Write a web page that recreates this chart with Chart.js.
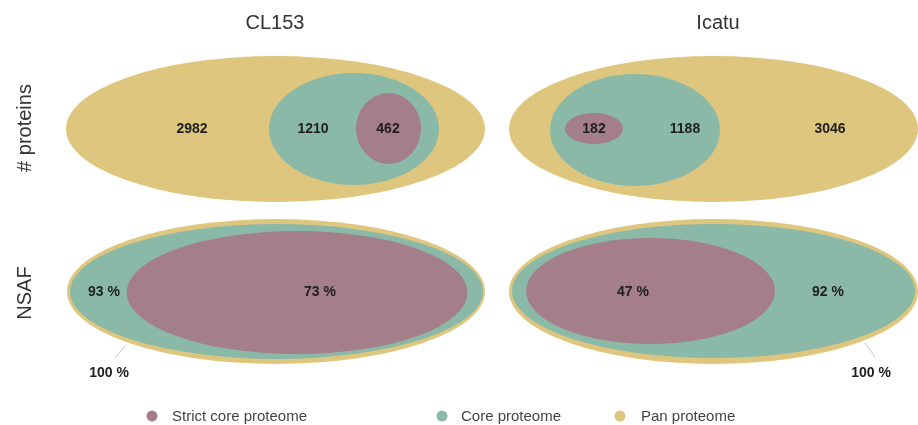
<!DOCTYPE html>
<html>
<head>
<meta charset="utf-8">
<script src="https://cdn.jsdelivr.net/npm/chart.js@4.4.1/dist/chart.umd.min.js"></script>
<style>
  html, body { margin: 0; padding: 0; background: #ffffff; }
  #wrap { position: relative; width: 918px; height: 425px; }
</style>
</head>
<body>
<div id="wrap"><canvas id="c"></canvas></div>
<script>
// ---------- DATA ----------
const cultivars = ['CL153', 'Icatu'];
const rowTitles = ['# proteins', 'NSAF'];
const seriesNames = ['Strict core proteome', 'Core proteome', 'Pan proteome'];
// number of proteins (exclusive region counts) per cultivar
const strictCoreCounts = [462, 182];
const coreCounts = [1210, 1188];
const panCounts = [2982, 3046];
// NSAF share (%) per cultivar
const strictCoreNsaf = [73, 47];
const coreNsaf = [93, 92];
const panNsaf = [100, 100];

// ---------- STYLE ----------
const seriesColors = ['#a47e88', '#8bb9a8', '#dfc67e'];
const FONT = '"Liberation Sans", Arial, sans-serif';

// ---------- LAYOUT (canvas units; panel order: CL153 #, Icatu #, CL153 NSAF, Icatu NSAF) ----------
const ellipseLayout = [
  // strict core
  [{cx: 388.5, cy: 128.5, rx: 32.5, ry: 35.5}, {cx: 594, cy: 128.5, rx: 29, ry: 15.5},
   {cx: 297, cy: 292.5, rx: 170.5, ry: 61.5}, {cx: 650.5, cy: 291, rx: 124.5, ry: 53}],
  // core
  [{cx: 354, cy: 129, rx: 85, ry: 56}, {cx: 635, cy: 130, rx: 85, ry: 56},
   {cx: 276.5, cy: 291.5, rx: 206.5, ry: 67.5}, {cx: 713.5, cy: 291, rx: 201.5, ry: 67}],
  // pan
  [{cx: 275.5, cy: 129, rx: 209.5, ry: 73}, {cx: 713.5, cy: 129, rx: 204.5, ry: 73},
   {cx: 276, cy: 291.5, rx: 209, ry: 72.5}, {cx: 713.5, cy: 291.5, rx: 204.5, ry: 72.5}]
];
const labelLayout = [
  [{x: 388, y: 129}, {x: 594, y: 129}, {x: 320, y: 292}, {x: 633, y: 292}],
  [{x: 313, y: 129}, {x: 685, y: 129}, {x: 104, y: 292}, {x: 828, y: 292}],
  [{x: 192, y: 129}, {x: 830, y: 129}, {x: 109, y: 373}, {x: 871, y: 373}]
];
const leaderLayout = [null, null, [[126, 345], [115, 358]], [[865, 343], [875, 357]]];
const titleLayout = [{x: 275, y: 23}, {x: 718, y: 23}];
const rowTitleLayout = [{x: 25, y: 128}, {x: 25, y: 293}];
const legendLayout = [{mx: 152, tx: 172}, {mx: 442, tx: 461}, {mx: 620, tx: 641}];
const legendY = 417;

// ---------- BUILD DATASETS ----------
const countsBySeries = [strictCoreCounts, coreCounts, panCounts];
const nsafBySeries = [strictCoreNsaf, coreNsaf, panNsaf];
const datasets = seriesNames.map((name, s) => ({
  label: name,
  backgroundColor: seriesColors[s],
  borderColor: seriesColors[s],
  pointRadius: 0,
  pointHoverRadius: 0,
  data: ellipseLayout[s].map((e, p) => {
    const col = p % 2;
    const isNsaf = p >= 2;
    return {
      x: e.cx, y: e.cy, rx: e.rx, ry: e.ry,
      text: isNsaf ? nsafBySeries[s][col] + ' %' : String(countsBySeries[s][col]),
      lx: labelLayout[s][p].x, ly: labelLayout[s][p].y,
      leader: isNsaf && s === 2 ? leaderLayout[p] : null
    };
  })
}));

// ---------- PLUGIN ----------
const eulerPlugin = {
  id: 'euler',
  afterDatasetsDraw(chart) {
    const ctx = chart.ctx;
    const xs = chart.scales.x, ys = chart.scales.y;
    const X = v => xs.getPixelForValue(v), Y = v => ys.getPixelForValue(v);
    ctx.save();
    // ellipses: pan (bottom) -> core -> strict (top)
    for (let s = chart.data.datasets.length - 1; s >= 0; s--) {
      const ds = chart.data.datasets[s];
      ctx.fillStyle = ds.backgroundColor;
      ds.data.forEach(d => {
        const px = X(d.x), py = Y(d.y);
        const rxp = Math.abs(X(d.x + d.rx) - px), ryp = Math.abs(Y(d.y + d.ry) - py);
        ctx.beginPath();
        ctx.ellipse(px, py, rxp, ryp, 0, 0, Math.PI * 2);
        ctx.fill();
      });
    }
    // leader lines
    ctx.strokeStyle = '#c8c8c8';
    ctx.lineWidth = 1;
    chart.data.datasets.forEach(ds => ds.data.forEach(d => {
      if (!d.leader) return;
      ctx.beginPath();
      ctx.moveTo(X(d.leader[0][0]), Y(d.leader[0][1]));
      ctx.lineTo(X(d.leader[1][0]), Y(d.leader[1][1]));
      ctx.stroke();
    }));
    // value labels
    ctx.fillStyle = '#1e1e1e';
    ctx.font = 'bold 14px ' + FONT;
    ctx.textAlign = 'center';
    ctx.textBaseline = 'middle';
    chart.data.datasets.forEach(ds => ds.data.forEach(d => {
      ctx.fillText(d.text, X(d.lx), Y(d.ly));
    }));
    // column titles
    ctx.fillStyle = '#333333';
    ctx.font = '20px ' + FONT;
    cultivars.forEach((t, i) => ctx.fillText(t, X(titleLayout[i].x), Y(titleLayout[i].y)));
    // row titles
    rowTitles.forEach((t, i) => {
      ctx.save();
      ctx.translate(X(rowTitleLayout[i].x), Y(rowTitleLayout[i].y));
      ctx.rotate(-Math.PI / 2);
      ctx.fillText(t, 0, 0);
      ctx.restore();
    });
    // legend
    ctx.font = '15px ' + FONT;
    ctx.textAlign = 'left';
    chart.data.datasets.forEach((ds, i) => {
      const L = legendLayout[i];
      ctx.fillStyle = ds.backgroundColor;
      ctx.beginPath();
      ctx.arc(X(L.mx), Y(legendY - 1), 5.5, 0, Math.PI * 2);
      ctx.fill();
      ctx.fillStyle = '#444444';
      ctx.fillText(ds.label, X(L.tx), Y(legendY));
    });
    ctx.restore();
  }
};

new Chart(document.getElementById('c'), {
  type: 'scatter',
  data: { datasets },
  options: {
    responsive: true,
    maintainAspectRatio: false,
    animation: false,
    layout: { padding: 0, autoPadding: false },
    scales: {
      x: { type: 'linear', min: 0, max: 918, display: false },
      y: { type: 'linear', min: 0, max: 425, reverse: true, display: false }
    },
    plugins: { legend: { display: false }, tooltip: { enabled: false } },
    events: []
  },
  plugins: [eulerPlugin]
});
</script>
</body>
</html>
